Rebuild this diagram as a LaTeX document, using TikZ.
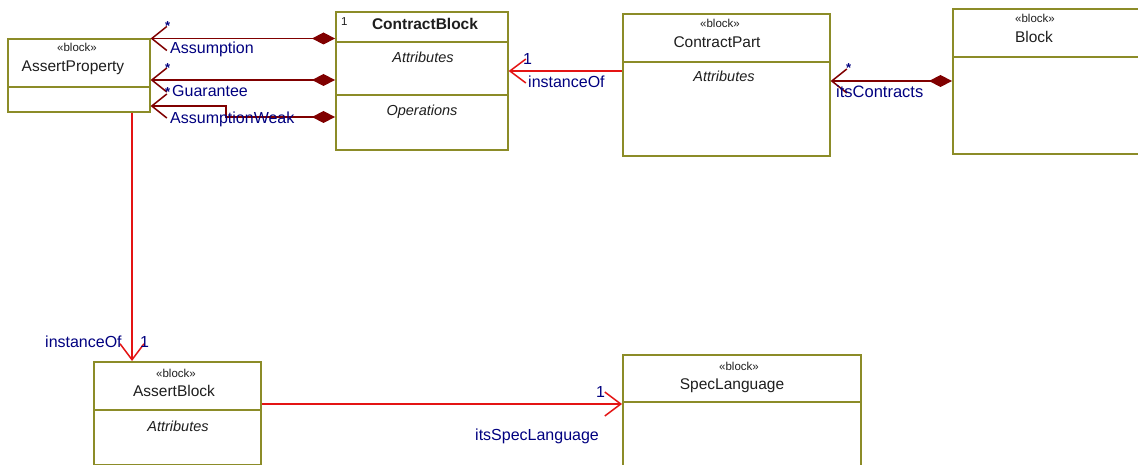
\documentclass[tikz,border=0pt]{standalone}
\usepackage{fontspec}
\setmainfont{Liberation Sans}
\usetikzlibrary{arrows.meta,calc}
\definecolor{boxol}{RGB}{140,140,40}
\definecolor{compred}{RGB}{128,0,0}
\definecolor{refred}{RGB}{228,20,20}
\definecolor{rolenavy}{RGB}{0,0,128}
\definecolor{txtgray}{RGB}{30,30,30}
\begin{document}
\begin{tikzpicture}[x=1pt,y=-1pt,
  blockbox/.style={draw=boxol, line width=1.6pt, fill=white, anchor=north west, inner sep=0pt},
  divider/.style={draw=boxol, line width=1.6pt},
  stereo/.style={font=\fontsize{11.5}{13}\selectfont, text=txtgray, anchor=base, inner sep=0pt},
  bname/.style={font=\fontsize{15.5}{18}\selectfont, text=txtgray, anchor=base, inner sep=0pt},
  compart/.style={font=\fontsize{14.5}{17}\selectfont\itshape, text=txtgray, anchor=base, inner sep=0pt},
  role/.style={font=\fontsize{16}{18}\selectfont, text=rolenavy, anchor=base west, inner sep=0pt},
  mult/.style={font=\fontsize{13}{15}\selectfont\bfseries, text=rolenavy, anchor=base west, inner sep=0pt},
  composition/.style={draw=compred, line width=1.8pt,
    {Diamond[length=23pt,width=12pt]}-{Straight Barb[length=15pt,width=24pt,line width=1.5pt]}},
  reference/.style={draw=refred, line width=1.6pt,
    -{Straight Barb[length=16pt,width=24pt,line width=1.5pt]}},
]
\useasboundingbox[fill=white] (0,0) rectangle (1138,465);

% ---- blocks ----
\node[blockbox, minimum width=142pt, minimum height=73pt] (ap) at (7,38) {};
\draw[divider] ([yshift=-49pt]ap.north west) -- ([yshift=-49pt]ap.north east);
\node[stereo] (ap-st) at (77,52) {«block»};
\node[bname] (ap-nm) at (73,72) {AssertProperty};

\node[blockbox, minimum width=172pt, minimum height=138pt] (cb) at (335,11) {};
\draw[divider] ([yshift=-31pt]cb.north west) -- ([yshift=-31pt]cb.north east);
\draw[divider] ([yshift=-84pt]cb.north west) -- ([yshift=-84pt]cb.north east);
\node[stereo, anchor=base west] (cb-mult) at (341,26) {1};
\node[bname, font=\fontsize{15.5}{18}\selectfont\bfseries] (cb-nm) at (425,30) {ContractBlock};
\node[compart] (cb-attr) at (423,63) {Attributes};
\node[compart] (cb-ops) at (422,116) {Operations};

\node[blockbox, minimum width=207pt, minimum height=142pt] (cp) at (622,13) {};
\draw[divider] ([yshift=-49pt]cp.north west) -- ([yshift=-49pt]cp.north east);
\node[stereo] (cp-st) at (720,28) {«block»};
\node[bname] (cp-nm) at (717,48) {ContractPart};
\node[compart] (cp-attr) at (724,82) {Attributes};

\node[blockbox, minimum width=200pt, minimum height=145pt] (bl) at (952,8) {};
\draw[divider] ([yshift=-49pt]bl.north west) -- ([yshift=-49pt]bl.north east);
\node[stereo] (bl-st) at (1035,23) {«block»};
\node[bname] (bl-nm) at (1034,43) {Block};

\node[blockbox, minimum width=167pt, minimum height=103pt] (ab) at (93,361) {};
\draw[divider] ([yshift=-49pt]ab.north west) -- ([yshift=-49pt]ab.north east);
\node[stereo] (ab-st) at (176,377) {«block»};
\node[bname] (ab-nm) at (174,396) {AssertBlock};
\node[compart] (ab-attr) at (178,431) {Attributes};

\node[blockbox, minimum width=238pt, minimum height=120pt] (sl) at (622,354) {};
\draw[divider] ([yshift=-48pt]sl.north west) -- ([yshift=-48pt]sl.north east);
\node[stereo] (sl-st) at (739,370) {«block»};
\node[bname] (sl-nm) at (732,389) {SpecLanguage};

% ---- compositions ContractBlock -> AssertProperty ----
\draw[composition] (cb.west |- 0,38.5) -- (ap.east |- 0,38.5);
\draw[composition] (cb.west |- 0,80) -- (ap.east |- 0,80);
\draw[composition] (cb.west |- 0,117) -- (226,117) -- (226,106) -- (ap.east |- 0,106);

\node[mult] (m-assum) at (165,31) {*};
\node[role] (r-assum) at (170,54) {Assumption};
\node[mult] (m-guar) at (165,73) {*};
\node[role] (r-guar) at (172,97) {Guarantee};
\node[mult] (m-weak) at (165,97) {*};
\node[role] (r-weak) at (170,124) {AssumptionWeak};

% ---- composition Block -> ContractPart ----
\draw[composition] (bl.west |- 0,81) -- (cp.east |- 0,81);
\node[mult] (m-its) at (846,73) {*};
\node[role, font=\fontsize{16.5}{18}\selectfont] (r-its) at (836,98) {itsContracts};

% ---- references ----
\draw[reference] (cp.west |- 0,71) -- (cb.east |- 0,71);
\node[role] (m-inst1) at (523,65) {1};
\node[role] (r-inst1) at (528,88) {instanceOf};

\draw[reference] (ap.south -| 132,0) -- (ab.north -| 132,0);
\node[role] (r-inst2) at (45,347) {instanceOf};
\node[role] (m-inst2) at (140,347) {1};

\draw[reference] (ab.east |- 0,404) -- (sl.west |- 0,404);
\node[role] (m-spec) at (596,397) {1};
\node[role] (r-spec) at (475,440) {itsSpecLanguage};
\end{tikzpicture}
\end{document}
